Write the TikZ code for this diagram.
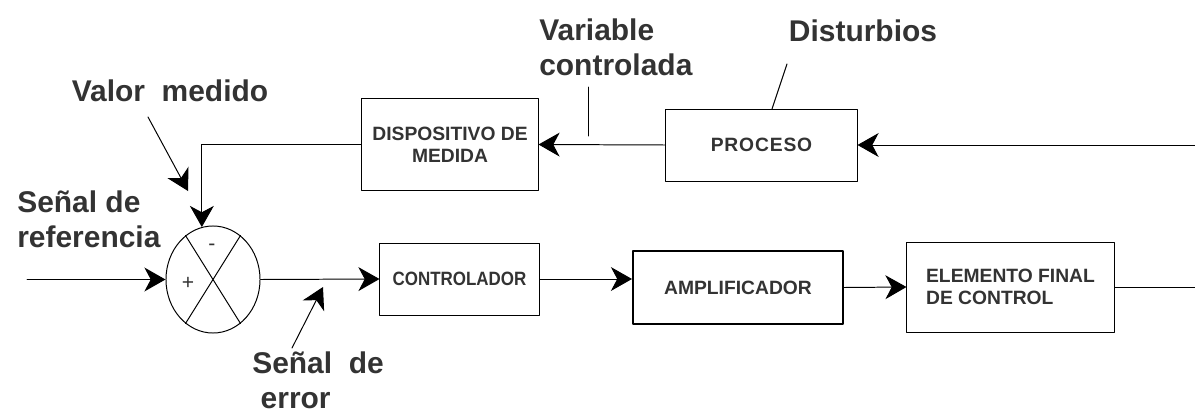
\documentclass[tikz,border=0pt]{standalone}
\usepackage{fontspec}
\setmainfont{Liberation Sans}
\newfontfamily\narrowfont{Liberation Sans}[FakeStretch=0.88]
\usetikzlibrary{arrows.meta,shapes.geometric}
\definecolor{inkgray}{RGB}{51,51,51}
\tikzset{block/.style={draw=black,line width=.7pt,inner sep=0pt,text=inkgray,align=center,
   font=\fontsize{13.7}{15.6}\selectfont\bfseries},
 junction/.style={draw=black,line width=.7pt,ellipse,inner sep=0pt,minimum width=2.35cm,minimum height=2.675cm},
 sign/.style={inner sep=0pt,text=inkgray,font=\fontsize{15}{15}\selectfont},
 signal/.style={line width=.7pt,-{Stealth[length=15pt,width=17pt,inset=4.5pt]}},
 wire/.style={line width=.7pt},
 caption/.style={inner sep=0pt,text=inkgray,align=left,font=\fontsize{21.3}{25}\selectfont\bfseries},
 every picture/.style={line join=round,line cap=round}}

\begin{document}
\begin{tikzpicture}[x=0.025cm,y=-0.025cm]
\useasboundingbox (0,0) rectangle (1195,414);
\node[junction] (sum) at (213,279.5) {};
\draw[wire] (sum.122) -- (sum.302);
\draw[wire] (sum.58) -- (sum.238);
\node[sign] (minus) at (212,247) {-};
\node[sign] (plus) at (188,283) {+};
\node[block,minimum width=4.4cm,minimum height=2.275cm] (disp) at (450,144.5) {DISPOSITIVO DE\\MEDIDA};
\node[block,minimum width=4.775cm,minimum height=1.8cm] (proc) at (761.5,145) {P\kern.6pt R\kern.6pt O\kern.6pt C\kern.6pt E\kern.6pt S\kern.6pt O};
\node[block,minimum width=3.975cm,minimum height=1.8cm,font=\narrowfont\fontsize{13.7}{15.6}\selectfont\bfseries] (ctrl) at (459.5,279) {CONTROLADOR};
\node[block,line width=1.4pt,minimum width=5.25cm,minimum height=1.825cm] (ampl) at (738,287.5) {AMPLIFICADOR};
\node[block,align=left,minimum width=5.175cm,minimum height=2.25cm] (elem) at (1010.5,287) {ELEMENTO FINAL\\DE CONTROL};
\coordinate (lin) at (27,279.5);
\coordinate (rin) at (1195,145);
\coordinate (rout) at (1195,287);
\coordinate (vmtail) at (148,117);
\coordinate (vmtip) at (188,191);
\coordinate (errtail) at (292,348);
\coordinate (errtip) at (323,287);
\coordinate (vctop) at (588,87);
\coordinate (vcbot) at (588,136);
\coordinate (disttop) at (787,64);
\coordinate (distbot) at (772,109);
\draw[signal] (lin) -- (sum.west);
\draw[signal] (sum.east) -- (ctrl.west);
\draw[signal] (ctrl.east) -- (ctrl.east -| ampl.west);
\draw[signal] (ampl.east) -- (elem.west);
\draw[wire] (elem.east) -- (rout);
\draw[signal] (rin) -- (proc.east);
\draw[signal] (proc.west) -- (disp.east);
\draw[signal] (disp.west) -| (sum.102);
\draw[signal] (vmtail) -- (vmtip);
\draw[signal] (errtail) -- (errtip);
\draw[wire] (vctop) -- (vcbot);
\draw[wire] (disttop) -- (distbot);
\node[caption] (vm) at (170,91) {Valor\ \ medido};
\node[caption,anchor=west] (sref) at (17,219.5) {Señal de\\referencia};
\node[caption,anchor=west] (vc) at (539,47.5) {Variable\\controlada};
\node[caption] (dist) at (863,31) {Disturbios};
\node[caption,anchor=west] (serr) at (252,380.5) {Señal\ \ de\\\hspace{6pt}error};
\end{tikzpicture}
\end{document}
